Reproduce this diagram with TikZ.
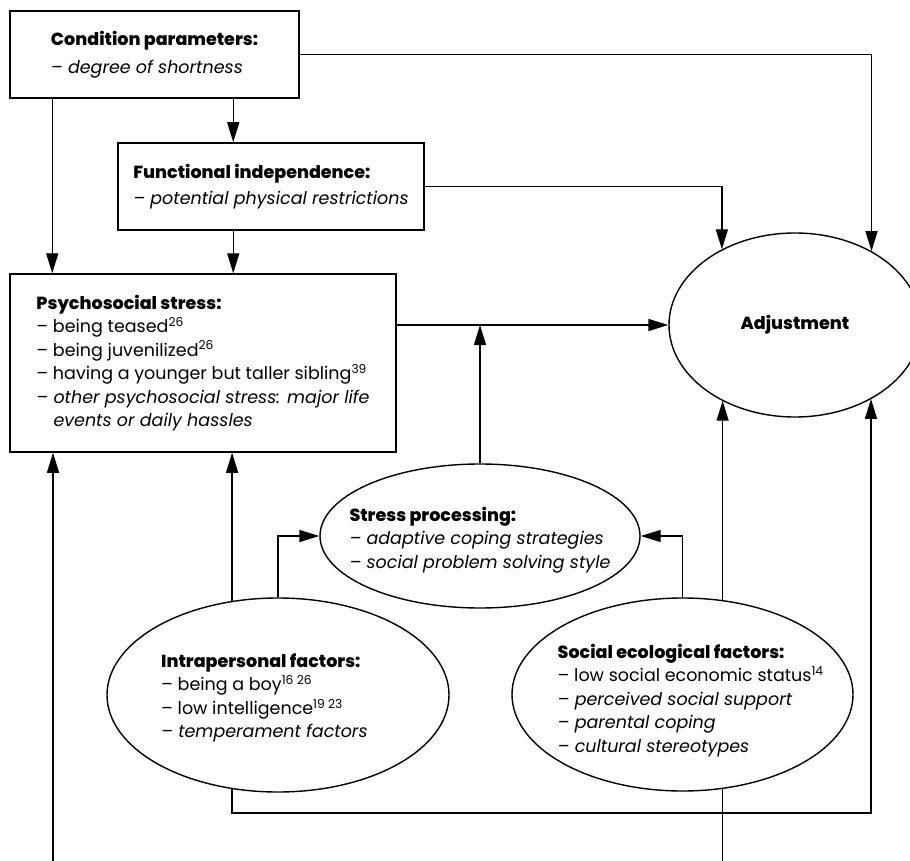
\documentclass[tikz,border=0pt]{standalone}
\usepackage{fontspec}
\setmainfont{Poppins}[BoldFont={Poppins ExtraBold}]
\usetikzlibrary{arrows.meta,shapes.geometric,positioning}

\begin{document}
\begin{tikzpicture}[x=1pt,y=-1pt,
    box/.style={draw,line width=1.5pt,rectangle,align=left,inner sep=0pt},
    oval/.style={draw,line width=1.4pt,ellipse,inner sep=0pt},
    txt/.style={align=left,inner sep=0pt},
    arr/.style={line width=1.4pt,-{Triangle[length=20pt,width=12pt]}},
    link/.style={line width=1.4pt},
    font=\fontsize{17.5}{23.5}\selectfont]
  % Fix the frame
  \clip (0,0) rectangle (910,861);
  % Draw the boxes
  \node[box,minimum width=289pt,minimum height=87pt] (cond) at (154.5,54.5)
    {\textbf{Condition parameters:}\\[5pt] \textit{– degree of shortness}};
  \node[box,minimum width=306pt,minimum height=87pt] (func) at (271,186.5)
    {\textbf{Functional independence:}\\[3pt] \textit{– potential physical restrictions}};
  \node[box,minimum width=386pt,minimum height=178pt] (psych) at (203,363)
    {\textbf{Psychosocial stress:}\\
     – being teased\textsuperscript{26}\\
     – being juvenilized\textsuperscript{26}\\
     – having a younger but taller sibling\textsuperscript{39}\\
     \textit{– other psychosocial stress: major life}\\
     \textit{\phantom{– }events or daily hassles}};
  % Draw the ellipses
  \node[oval,minimum width=252pt,minimum height=184pt] (adj) at (795,325) {};
  \node[oval,minimum width=320pt,minimum height=144pt] (stress) at (480,536) {};
  \node[oval,minimum width=342pt,minimum height=194pt] (intra) at (278,695) {};
  \node[oval,minimum width=341pt,minimum height=193pt] (social) at (682.5,694.5) {};
  % Texts of the ellipses
  \node[txt] (adjtext) at (adj) {\textbf{Adjustment}};
  \node[txt] (stresstext) at ([yshift=-4pt]stress.center)
    {\textbf{Stress processing:}\\
     \textit{– adaptive coping strategies}\\
     \textit{– social problem solving style}};
  \node[txt,anchor=west] (intratext) at ([xshift=-117pt,yshift=-3pt]intra.center)
    {\textbf{Intrapersonal factors:}\\
     – being a boy\textsuperscript{16 26}\\
     – low intelligence\textsuperscript{19 23}\\
     \textit{– temperament factors}};
  \node[txt,anchor=west] (socialtext) at ([xshift=-125pt,yshift=-6pt]social.center)
    {\textbf{Social ecological factors:}\\
     – low social economic status\textsuperscript{14}\\
     \textit{– perceived social support}\\
     \textit{– parental coping}\\
     \textit{– cultural stereotypes}};
  % Free ends below the frame
  \coordinate (leftin) at (53,875);
  \coordinate (loop) at (871,813);
  \coordinate (socout) at (722,875);
  % Draw the arrows
  \draw[arr] ([xshift=43pt]cond.south west) -- ([xshift=43pt]psych.north west);
  \draw[arr] ([xshift=224pt]cond.south west) -- ([xshift=116pt]func.north west);
  \draw[arr] ([xshift=116pt]func.south west) -- ([xshift=224pt]psych.north west);
  \draw[arr] (cond.east) -| (adj.44);
  \draw[arr] (func.east) -| (adj.134);
  \draw[arr] (psych.east |- adj.west) -- (adj.west);
  \draw[arr] (stress.north) -- (stress.north |- adj.west);
  \draw[arr] (intra.116) -- (intra.116 |- psych.south);
  \draw[arr] (intra.north) |- (stress.west);
  \draw[arr] (social.north) |- (stress.east);
  \draw[arr] (social.67) -- (social.67 |- adj.226);
  \draw[arr] (intra.244) |- (loop) -- (loop |- adj.316);
  \draw[link] (social.293) -- (social.293 |- socout);
  \draw[arr] (leftin) -- (leftin |- psych.south);
\end{tikzpicture}
\end{document}
